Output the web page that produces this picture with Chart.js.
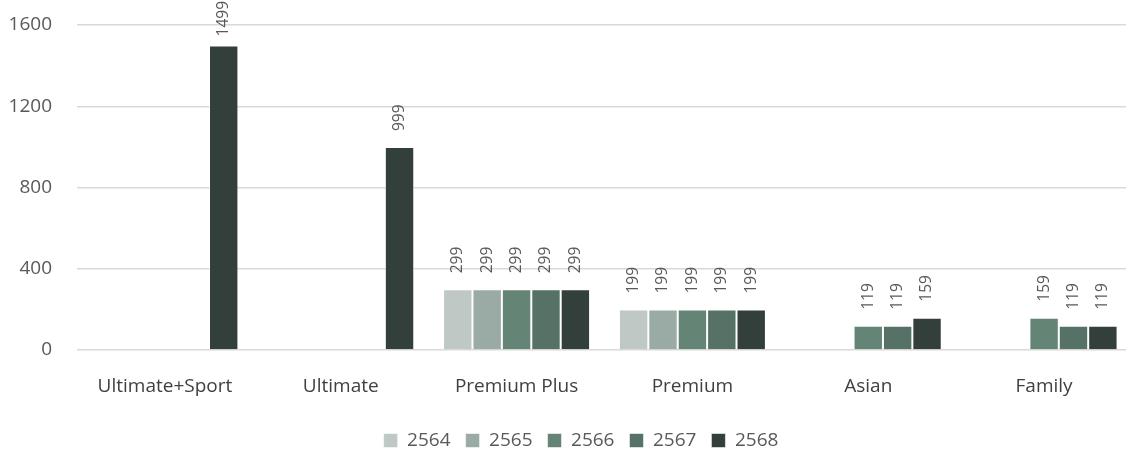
<!DOCTYPE html>
<html>
<head>
<meta charset="utf-8">
<script src="https://cdn.jsdelivr.net/npm/chart.js@4.4.1/dist/chart.umd.min.js"></script>
<style>
  html, body { margin: 0; padding: 0; background: #ffffff; overflow: hidden; }
  #wrap { width: 1126px; height: 455px; overflow: hidden; }
  #c { display: block; }
</style>
</head>
<body>
<div id="wrap"><canvas id="c" width="1162" height="460"></canvas></div>
<script>
// Package categories and yearly prices
const categories = ['Ultimate+Sport', 'Ultimate', 'Premium Plus', 'Premium', 'Asian', 'Family'];
const years = ['2564', '2565', '2566', '2567', '2568'];
const price2564 = [null, null, 299, 199, null, null];
const price2565 = [null, null, 299, 199, null, null];
const price2566 = [null, null, 299, 199, 119, 159];
const price2567 = [null, null, 299, 199, 119, 119];
const price2568 = [1499, 999, 299, 199, 159, 119];
const yTicks = [0, 400, 800, 1200, 1600];

const seriesValues = [price2564, price2565, price2566, price2567, price2568];
const seriesColors = ['#bfc8c5', '#9aaba5', '#648476', '#567166', '#333f3b'];

const FONT = "'Open Sans', 'Noto Sans', sans-serif";

// Rotated value labels above each bar (kept inside the canvas at the top)
const valueLabels = {
  id: 'valueLabels',
  afterDatasetsDraw(chart) {
    const ctx = chart.ctx;
    ctx.save();
    ctx.font = '15.5px ' + FONT;
    ctx.fillStyle = '#595959';
    ctx.textAlign = 'left';
    ctx.textBaseline = 'middle';
    chart.data.datasets.forEach((ds, di) => {
      const meta = chart.getDatasetMeta(di);
      meta.data.forEach((bar, i) => {
        const v = ds.data[i];
        if (v === null || v === undefined) return;
        const text = String(v);
        const len = ctx.measureText(text).width;
        const start = Math.max(bar.y - 16, len + 1);
        ctx.save();
        ctx.translate(bar.x, start);
        ctx.rotate(-Math.PI / 2);
        ctx.fillText(text, 0, 0);
        ctx.restore();
      });
    });
    ctx.restore();
  }
};

// Nudge the legend row a little to the right of the canvas centre
const legendOffset = {
  id: 'legendOffset',
  afterLayout(chart) {
    const lg = chart.legend;
    if (!lg) return;
    lg.left += 15;
    lg.right += 15;
  }
};

new Chart(document.getElementById('c'), {
  type: 'bar',
  data: {
    labels: categories,
    datasets: years.map((y, i) => ({
      label: y,
      data: seriesValues[i],
      backgroundColor: seriesColors[i],
      borderColor: 'rgba(255,255,255,0.55)',
      borderWidth: 1,
      barPercentage: 1.0,
      categoryPercentage: 0.836
    }))
  },
  options: {
    responsive: false,
    animation: false,
    layout: { padding: { top: 25, right: 30, left: 0, bottom: 0 } },
    plugins: {
      tooltip: { enabled: false },
      legend: {
        position: 'bottom',
        labels: {
          font: { family: FONT, size: 19 },
          color: '#595959',
          boxWidth: 14,
          boxHeight: 14,
          padding: 15
        }
      }
    },
    scales: {
      x: {
        grid: { display: false, drawTicks: false },
        border: { display: false },
        ticks: {
          font: { family: FONT, size: 19 },
          color: '#404040',
          padding: 25,
          maxRotation: 0
        },
        afterFit(s) { s.height = 66; }
      },
      y: {
        min: 0,
        max: 1600,
        afterBuildTicks(s) { s.ticks = yTicks.map(v => ({ value: v })); },
        grid: { color: '#d9d9d9', lineWidth: 1.5, drawTicks: false },
        border: { display: false },
        ticks: {
          font: { family: FONT, size: 19 },
          color: '#595959',
          padding: 25,
          callback: (v) => String(v)
        },
        afterFit(s) { s.width = 77; s.paddingTop = 0; s.paddingBottom = 0; }
      }
    }
  },
  plugins: [valueLabels, legendOffset]
});
</script>
</body>
</html>
